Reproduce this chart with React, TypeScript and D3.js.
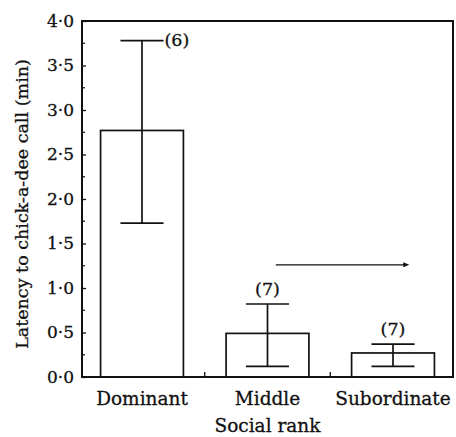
import React, { useEffect, useRef } from 'react'
import * as d3 from 'd3'

// social rank groups and latency (min)
const categories = ['Dominant', 'Middle', 'Subordinate']
const means = [2.77, 0.49, 0.27]
const upperErr = [3.78, 0.82, 0.37]
const lowerErr = [1.73, 0.12, 0.12]
const sampleLabels = ['(6)', '(7)', '(7)']
const yTicks = [0, 0.5, 1, 1.5, 2, 2.5, 3, 3.5, 4]
const yMinorTicks = [0.25, 0.75, 1.25, 1.75, 2.25, 2.75, 3.25, 3.75]
const arrowLevel = 1.26

const W = 456
const H = 437
const FONT = '"DejaVu Serif", serif'

const fmt = (v: number) => v.toFixed(1).replace('.', '\u00b7')

// slightly heavier text, like the printed figure
const ink = (sel: any, size: number) =>
  sel.attr('font-family', FONT)
    .attr('font-size', size)
    .attr('fill', '#111')
    .attr('stroke', '#111')
    .attr('stroke-width', 0.3)

const App = () => {
  const ref = useRef<SVGSVGElement>(null)

  useEffect(() => {
    const margin = { top: 21, right: 3, bottom: 60, left: 82 }
    const svg = d3.select(ref.current)
    svg.selectAll('*').remove()

    const x = d3.scaleBand()
      .domain(categories)
      .range([margin.left, W - margin.right])
      .paddingInner(0.34)
      .paddingOuter(0.148)
    const y = d3.scaleLinear().domain([0, 4]).range([H - margin.bottom, margin.top])
    const bw = x.bandwidth()
    const cx = (c: string) => (x(c) as number) + bw / 2
    const cap = bw * 0.26

    const g = svg.append('g')

    // bars
    g.selectAll('rect.bar')
      .data(categories)
      .enter()
      .append('rect')
      .attr('class', 'bar')
      .attr('x', (d) => x(d) as number)
      .attr('y', (d, i) => y(means[i]))
      .attr('width', bw)
      .attr('height', (d, i) => y(0) - y(means[i]))
      .attr('fill', 'white')
      .attr('stroke', '#111')
      .attr('stroke-width', 1.7)

    // error bars
    categories.forEach((c, i) => {
      const e = g.append('g').attr('stroke', '#111').attr('stroke-width', 1.7)
      e.append('line')
        .attr('x1', cx(c)).attr('x2', cx(c))
        .attr('y1', y(upperErr[i])).attr('y2', y(lowerErr[i]))
      e.append('line')
        .attr('x1', cx(c) - cap).attr('x2', cx(c) + cap)
        .attr('y1', y(upperErr[i])).attr('y2', y(upperErr[i]))
      e.append('line')
        .attr('x1', cx(c) - cap).attr('x2', cx(c) + cap)
        .attr('y1', y(lowerErr[i])).attr('y2', y(lowerErr[i]))
    })

    // sample sizes
    categories.forEach((c, i) => {
      const t = ink(g.append('text'), 17.5).text(sampleLabels[i])
      if (i === 0) {
        t.attr('x', cx(c) + cap + 1).attr('y', y(upperErr[i]) + 5)
      } else {
        t.attr('x', cx(c)).attr('y', y(upperErr[i]) - 9).attr('text-anchor', 'middle')
      }
    })

    // arrow Middle -> Subordinate
    const ax1 = (x('Middle') as number) + bw * 0.6
    const ax2 = (x('Subordinate') as number) + bw * 0.66
    g.append('line')
      .attr('x1', ax1).attr('x2', ax2)
      .attr('y1', y(arrowLevel)).attr('y2', y(arrowLevel))
      .attr('stroke', '#111').attr('stroke-width', 1.4)
    g.append('path')
      .attr('d', `M${ax2 + 3},${y(arrowLevel)} L${ax2 - 3},${y(arrowLevel) - 2.5} L${ax2 - 3},${y(arrowLevel) + 2.5} Z`)
      .attr('fill', '#111')

    // frame
    g.append('rect')
      .attr('x', margin.left).attr('y', margin.top)
      .attr('width', W - margin.left - margin.right)
      .attr('height', H - margin.top - margin.bottom)
      .attr('fill', 'none')
      .attr('stroke', '#111')
      .attr('stroke-width', 2)

    // y axis
    const yAxis = g.append('g').attr('transform', `translate(${margin.left},0)`)
      .call(d3.axisLeft(y).tickValues(yTicks).tickSize(-4).tickFormat((d) => fmt(d as number)).tickPadding(8))
    yAxis.select('.domain').remove()
    ink(yAxis.selectAll('text'), 17)
    yAxis.selectAll('line').attr('stroke', '#111').attr('stroke-width', 1.3)
    g.append('g').attr('transform', `translate(${margin.left},0)`)
      .selectAll('line')
      .data(yMinorTicks)
      .enter()
      .append('line')
      .attr('x1', 0).attr('x2', 3)
      .attr('y1', (d) => y(d)).attr('y2', (d) => y(d))
      .attr('stroke', '#111').attr('stroke-width', 1.2)

    // x axis labels + small ticks between groups
    const xAxis = g.append('g').attr('transform', `translate(0,${y(0)})`)
      .call(d3.axisBottom(x).tickSize(0).tickPadding(15))
    xAxis.select('.domain').remove()
    ink(xAxis.selectAll('text'), 18.5)
    const bounds = [0.5 * ((x('Dominant') as number) + bw + (x('Middle') as number)),
      0.5 * ((x('Middle') as number) + bw + (x('Subordinate') as number))]
    g.selectAll('line.sep')
      .data(bounds)
      .enter()
      .append('line')
      .attr('x1', (d) => d).attr('x2', (d) => d)
      .attr('y1', y(0)).attr('y2', y(0) - 5)
      .attr('stroke', '#111').attr('stroke-width', 1.3)

    // axis titles
    ink(g.append('text'), 18.5)
      .attr('x', cx('Middle'))
      .attr('y', H - 5)
      .attr('text-anchor', 'middle')
      .text('Social rank')
    ink(g.append('text'), 17.5)
      .attr('transform', `translate(28,204) rotate(-90)`)
      .attr('text-anchor', 'middle')
      .text('Latency to chick-a-dee call (min)')
  }, [])

  return (
    <svg ref={ref} width={W} height={H}
      style={{ position: 'absolute', left: 0, top: 0, background: 'white' }} />
  )
}

export default App
